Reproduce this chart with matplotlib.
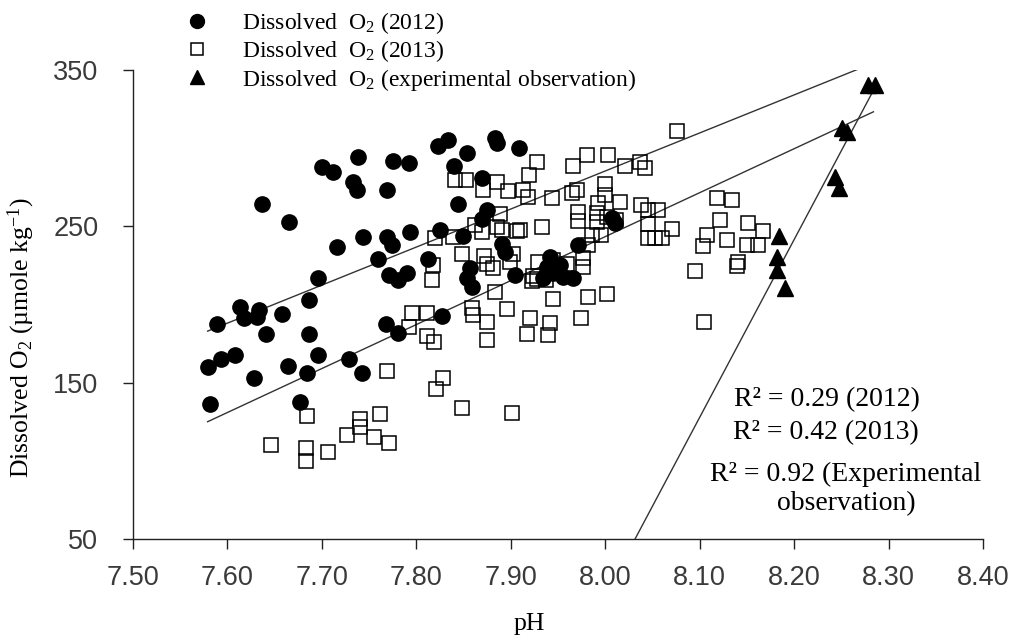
import numpy as np
import matplotlib
matplotlib.use("Agg")
import matplotlib.pyplot as plt
from matplotlib.lines import Line2D

plt.rcParams['font.family'] = ['Liberation Serif', 'DejaVu Serif']
plt.rcParams['mathtext.fontset'] = 'custom'
plt.rcParams['mathtext.rm'] = 'Liberation Serif'
plt.rcParams['mathtext.it'] = 'Liberation Serif:italic'

# ---------------- data ----------------
ph_2012 = [7.637, 7.665, 7.700, 7.712, 7.738, 7.733, 7.737, 7.775, 7.792, 7.769,
           7.823, 7.834, 7.716, 7.744, 7.769, 7.774, 7.793, 7.825, 7.759, 7.812,
           7.696, 7.771, 7.781, 7.790, 7.686, 7.613, 7.633, 7.658, 7.589, 7.618,
           7.631, 7.641, 7.686, 7.579, 7.593, 7.608, 7.628, 7.664, 7.696, 7.684,
           7.729, 7.742, 7.582, 7.677, 7.768, 7.781, 7.827, 7.854, 7.883, 7.885,
           7.909, 7.840, 7.870, 7.844, 7.875, 7.870, 7.849, 7.891, 7.894, 7.857,
           7.854, 7.859, 7.904, 7.942, 7.938, 7.945, 7.955, 7.966, 7.934, 7.952,
           7.971, 8.007, 8.010]
o2_2012 = [264.3, 252.8, 288.0, 284.8, 294.4, 278.4, 273.2, 291.8, 290.5, 273.2,
           301.4, 305.2, 236.8, 243.2, 243.2, 238.1, 246.4, 247.7, 229.1, 229.1,
           217.0, 218.9, 215.7, 220.2, 202.9, 198.4, 196.5, 193.9, 187.5, 191.4,
           192.0, 181.1, 181.1, 160.0, 165.1, 167.7, 153.0, 160.7, 167.7, 156.2,
           165.1, 156.2, 136.4, 137.6, 187.5, 181.8, 192.6, 296.9, 306.5, 303.3,
           300.1, 288.6, 280.9, 264.3, 260.5, 254.7, 243.8, 238.7, 233.6, 223.4,
           217.0, 211.2, 218.9, 230.4, 224.0, 220.2, 217.6, 217.0, 217.0, 225.3,
           238.1, 255.3, 252.1]

ph_2013 = [7.820, 7.839, 7.818, 7.817, 7.795, 7.811, 7.792, 7.811, 7.819, 7.769,
           7.828, 7.821, 7.684, 7.646, 7.683, 7.683, 7.706, 7.727, 7.740, 7.740,
           7.755, 7.762, 7.771, 8.076, 7.928, 7.981, 8.003, 7.966, 8.021, 8.037,
           8.042, 7.919, 7.841, 7.853, 7.871, 7.885, 7.897, 7.913, 7.918, 7.944,
           7.965, 7.970, 8.000, 8.000, 8.016, 7.992, 8.038, 8.045, 8.056, 7.889,
           7.971, 7.971, 7.991, 7.991, 8.002, 8.011, 8.045, 8.071, 8.045, 8.053,
           8.060, 7.862, 7.870, 7.885, 7.891, 7.907, 7.933, 7.910, 7.986, 7.996,
           7.982, 7.848, 7.872, 7.902, 7.976, 7.976, 7.875, 7.881, 7.899, 7.929,
           7.945, 7.960, 7.924, 7.928, 7.922, 7.937, 7.883, 7.945, 7.982, 8.002,
           7.859, 7.860, 7.896, 7.920, 8.118, 8.122, 8.108, 8.104, 8.095, 8.129,
           7.875, 7.917, 7.942, 7.939, 7.974, 8.105, 7.848, 7.901, 7.875, 8.134,
           8.151, 8.167, 8.150, 8.162, 8.141, 8.140]
o2_2013 = [242.5, 243.2, 225.3, 215.7, 194.6, 194.6, 185.6, 179.9, 176.0, 157.5,
           153.0, 146.0, 128.7, 110.1, 108.2, 99.9, 105.7, 116.5, 126.8, 121.6,
           115.2, 130.0, 111.4, 311.0, 291.2, 295.6, 295.6, 288.6, 288.6, 291.2,
           287.3, 282.8, 279.6, 279.6, 273.2, 278.4, 272.6, 273.2, 268.8, 268.1,
           271.3, 273.2, 277.1, 270.0, 265.6, 264.9, 263.6, 260.5, 260.5, 257.9,
           259.2, 253.4, 258.5, 252.8, 256.0, 254.1, 251.5, 248.3, 242.5, 242.5,
           242.5, 250.9, 246.4, 249.6, 247.7, 247.0, 249.6, 247.7, 244.5, 244.5,
           238.1, 232.3, 231.0, 232.3, 229.7, 224.0, 225.9, 223.4, 227.2, 227.2,
           228.5, 225.9, 218.2, 216.3, 215.0, 215.7, 208.0, 203.5, 204.8, 206.7,
           197.8, 193.3, 197.1, 191.4, 268.1, 254.1, 244.5, 237.4, 221.4, 241.3,
           188.8, 181.1, 188.2, 180.5, 191.4, 188.8, 133.8, 130.6, 177.3, 266.8,
           252.1, 247.0, 238.1, 238.1, 227.2, 224.6]

ph_exp = [8.278, 8.286, 8.251, 8.256, 8.243, 8.248, 8.184, 8.182, 8.182, 8.190]
o2_exp = [340.4, 340.4, 312.9, 310.3, 281.6, 274.5, 243.8, 230.4, 222.1, 210.6]

# linear trend lines (slope, intercept) and the pH span they cover
fit_2012 = [243.3, -1661.0]
span_2012 = [7.579, 8.272]
fit_2013 = [281.2, -2006.2]
span_2013 = [7.579, 8.284]
fit_exp = [1137.0, -9081.9]
span_exp = [8.0316, 8.282]

r2_labels = ["R² = 0.29 (2012)", "R² = 0.42 (2013)",
             "R² = 0.92 (Experimental\nobservation)"]

x_ticks = [7.50, 7.60, 7.70, 7.80, 7.90, 8.00, 8.10, 8.20, 8.30, 8.40]
y_ticks = [50, 150, 250, 350]

# ---------------- figure ----------------
fig = plt.figure(figsize=(10.21, 6.37), dpi=100)
ax = fig.add_axes([133 / 1021, 1 - 539 / 637, 850 / 1021, 469 / 637])

line_kw = dict(color='#333333', lw=1.0, zorder=1)
for fit, span in [(fit_2012, span_2012), (fit_2013, span_2013), (fit_exp, span_exp)]:
    xs = np.array(span)
    ax.plot(xs, np.polyval(fit, xs), **line_kw)

ax.plot(ph_2012, o2_2012, 'o', ms=11, color='black', mec='black', zorder=2)
ax.plot(ph_2013, o2_2013, 's', ms=10, mfc='none', mec='black', mew=1.1, zorder=3)
ax.plot(ph_exp, o2_exp, '^', ms=11, color='black', mec='black', zorder=4)

ax.set_xlim(7.50, 8.40)
ax.set_ylim(50, 350)
ax.set_xticks(x_ticks)
ax.set_yticks(y_ticks)
ax.set_xticklabels([f"{t:.2f}" for t in x_ticks])
ax.set_yticklabels([str(t) for t in y_ticks])

for s in ['top', 'right']:
    ax.spines[s].set_visible(False)
for s in ['left', 'bottom']:
    ax.spines[s].set_linewidth(1.0)
    ax.spines[s].set_color('#222222')

ax.tick_params(axis='both', direction='out', length=7, width=1.0, color='#222222',
               labelsize=19.5, labelcolor='#3a3a3a')
ax.tick_params(axis='y', pad=18)
ax.tick_params(axis='x', pad=12)
for lab in ax.get_xticklabels() + ax.get_yticklabels():
    lab.set_fontfamily('Liberation Sans')

ax.set_xlabel('pH', fontsize=18.5)
ax.set_ylabel('Dissolved O$_2$ (µmole kg$^{-1}$)', fontsize=18.5)
ax.xaxis.set_label_coords(0.466, -0.158)
ax.yaxis.set_label_coords(-0.113, 0.429)

# R squared notes
ax.text(827 / 1021, 1 - 400 / 637, r2_labels[0], transform=fig.transFigure,
        fontsize=20, ha='center', va='center')
ax.text(826 / 1021, 1 - 433 / 637, r2_labels[1], transform=fig.transFigure,
        fontsize=20, ha='center', va='center')
ax.text(846 / 1021, 1 - 489 / 637, r2_labels[2], transform=fig.transFigure,
        fontsize=20, ha='center', va='center', linespacing=1.2)

# legend
handles = [
    Line2D([], [], ls='none', marker='o', ms=10, color='black'),
    Line2D([], [], ls='none', marker='s', ms=9, mfc='none', mec='black', mew=1.1),
    Line2D([], [], ls='none', marker='^', ms=10, color='black'),
]
labels = ['Dissolved  O$_2$ (2012)', 'Dissolved  O$_2$ (2013)',
          'Dissolved  O$_2$ (experimental observation)']
fig.legend(handles, labels, loc='upper left', bbox_to_anchor=(185 / 1021, 1 - 10 / 637),
           frameon=False, fontsize=17, handlelength=1.0, handletextpad=1.4,
           labelspacing=0.1, borderpad=0, borderaxespad=0)

fig.savefig('out.png', dpi=100)
